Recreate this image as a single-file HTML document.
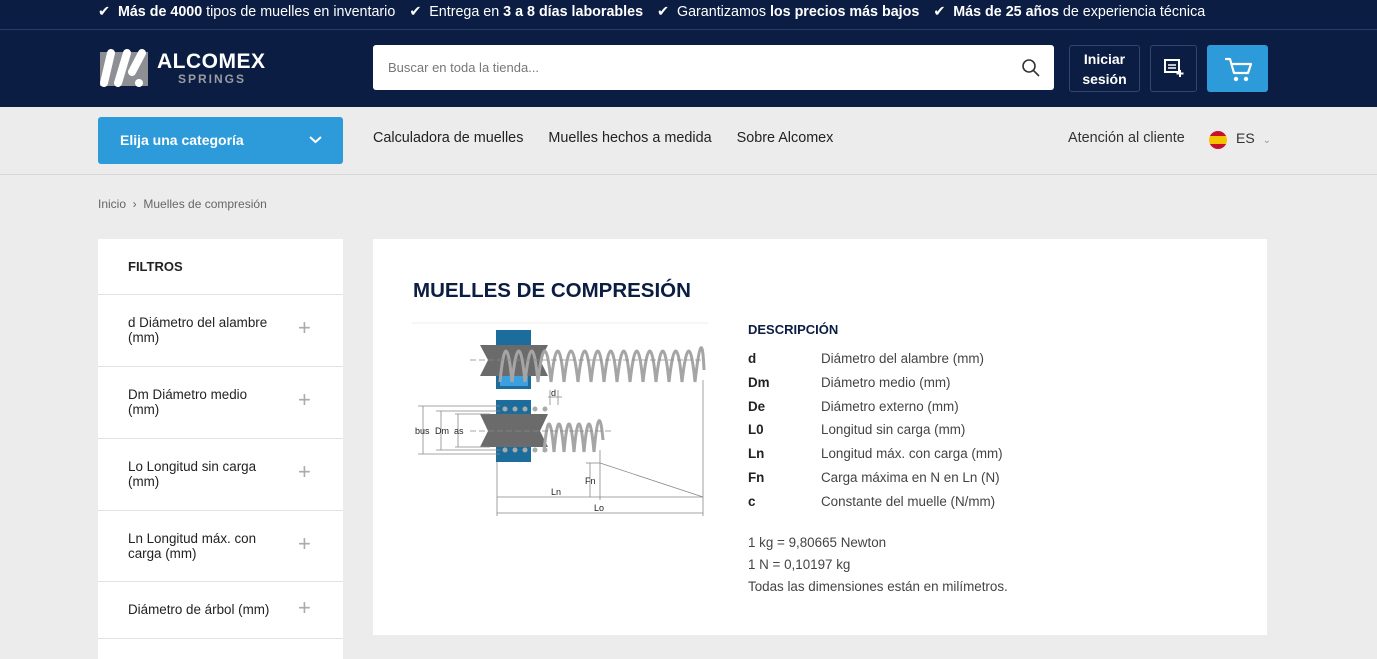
<!DOCTYPE html>
<html><head><meta charset="utf-8"><style>
*{margin:0;padding:0;box-sizing:border-box}
body{width:1377px;height:651px;overflow:hidden;background:#ececec;font-family:"Liberation Sans",sans-serif;position:relative;color:#1a1a1a}
.a{position:absolute}
.nav{background:#0b1d42}
.top span{margin-right:14px}
</style></head><body>
<div class="a nav" style="left:0;top:0;width:1377px;height:107px"></div>
<div class="a" style="left:0;top:29px;width:1377px;height:1px;background:#2a3d66"></div>
<div class="a top" style="left:98px;top:4px;color:#fff;font-size:14.3px;white-space:nowrap;line-height:17px">
<span>✔&nbsp;&nbsp;<b>Más de 4000</b> tipos de muelles en inventario</span><span>✔&nbsp;&nbsp;Entrega en <b>3 a 8 días laborables</b></span><span>✔&nbsp;&nbsp;Garantizamos <b>los precios más bajos</b></span><span>✔&nbsp;&nbsp;<b>Más de 25 años</b> de experiencia técnica</span></div>
<svg class="a" style="left:98px;top:46px" width="52" height="44" viewBox="0 0 52 44">
<rect x="2" y="6" width="48" height="34" fill="#8d8f94"/>
<g stroke="#fff" stroke-width="8" stroke-linecap="round"><line x1="6" y1="37" x2="13" y2="7"/><line x1="20" y1="37" x2="29" y2="7"/><line x1="34" y1="26" x2="44" y2="7"/></g>
<circle cx="41" cy="37" r="4" fill="#fff"/></svg>
<div class="a" style="left:157px;top:50px;color:#fff;font-weight:bold;font-size:21px;letter-spacing:0.5px">ALCOMEX</div>
<div class="a" style="left:178px;top:72px;color:#9a9ca2;font-weight:bold;font-size:12px;letter-spacing:2px">SPRINGS</div>
<div class="a" style="left:373px;top:45px;width:681px;height:45px;background:#fff;border-radius:3px"></div>
<div class="a" style="left:388px;top:60px;font-size:13px;color:#777">Buscar en toda la tienda...</div>
<svg class="a" style="left:1022px;top:59px" width="18" height="18"><circle cx="7" cy="7" r="6" fill="none" stroke="#333" stroke-width="1.6"/><line x1="11.5" y1="11.5" x2="17" y2="17" stroke="#333" stroke-width="1.6"/></svg>
<div class="a" style="left:1069px;top:45px;width:71px;height:47px;border:1px solid #33466e;border-radius:3px;color:#fff;font-weight:bold;font-size:14px;text-align:center;line-height:20px;padding-top:3px">Iniciar<br>sesión</div>
<div class="a" style="left:1150px;top:45px;width:47px;height:47px;border:1px solid #33466e;border-radius:3px"></div>
<svg class="a" style="left:1164px;top:58px" width="20" height="20"><rect x="1" y="2" width="14" height="12" fill="none" stroke="#fff" stroke-width="2"/><line x1="4" y1="7" x2="12" y2="7" stroke="#fff" stroke-width="1.5"/><line x1="4" y1="10" x2="12" y2="10" stroke="#fff" stroke-width="1.5"/><line x1="16" y1="12" x2="16" y2="19" stroke="#fff" stroke-width="2"/><line x1="12.5" y1="15.5" x2="19.5" y2="15.5" stroke="#fff" stroke-width="2"/></svg>
<div class="a" style="left:1207px;top:45px;width:61px;height:47px;background:#2d9ad9;border-radius:3px"></div>
<svg class="a" style="left:1222px;top:55px" width="32" height="28"><path d="M3 4 L8 4 L12 18 L26 18 L29 9 L10 9" fill="none" stroke="#fff" stroke-width="2.2" stroke-linejoin="round"/><circle cx="14" cy="24" r="2.2" fill="#fff"/><circle cx="24" cy="24" r="2.2" fill="#fff"/></svg>
<div class="a" style="left:0;top:174px;width:1377px;height:1px;background:#d6d6d6"></div>
<div class="a" style="left:98px;top:117px;width:245px;height:47px;background:#2d9ad9;border-radius:3px;color:#fff;font-weight:bold;font-size:14px;padding:15px 0 0 22px">Elija una categoría</div>
<svg class="a" style="left:309px;top:135px" width="13" height="10"><path d="M1 2 L6.5 7 L12 2" fill="none" stroke="#fff" stroke-width="2"/></svg>
<div class="a" style="left:373px;top:130px;font-size:14.4px;color:#222;white-space:nowrap">Calculadora de muelles<span style="margin-left:25px">Muelles hechos a medida</span><span style="margin-left:25px">Sobre Alcomex</span></div>
<div class="a" style="left:1068px;top:130px;font-size:14.4px;color:#333">Atención al cliente</div>
<div class="a" style="left:1209px;top:131px;width:18px;height:18px;border-radius:50%;background:linear-gradient(#c8102e 0 28%,#f5c400 28% 72%,#c8102e 72%)"></div>
<div class="a" style="left:1236px;top:130px;font-size:14px;color:#333">ES <span style="color:#999;font-size:10px;margin-left:4px">⌄</span></div>
<div class="a" style="left:98px;top:197px;font-size:12px;color:#666">Inicio &nbsp;›&nbsp; Muelles de compresión</div>
<div class="a" style="left:98px;top:239px;width:245px;height:420px;background:#fff"></div>
<div class="a" style="left:128px;top:259px;font-size:13px;font-weight:bold;color:#222">FILTROS</div>
<div class="a" style="left:98px;top:294px;width:245px;height:1px;background:#e2e2e2"></div>
<div class="a" style="left:128px;top:315px;font-size:13.4px;line-height:15px;color:#222">d Diámetro del alambre<br>(mm)</div>
<div class="a" style="left:98px;top:366px;width:245px;height:1px;background:#e2e2e2"></div>
<div class="a" style="left:128px;top:387px;font-size:13.4px;line-height:15px;color:#222">Dm Diámetro medio<br>(mm)</div>
<div class="a" style="left:98px;top:438px;width:245px;height:1px;background:#e2e2e2"></div>
<div class="a" style="left:128px;top:459px;font-size:13.4px;line-height:15px;color:#222">Lo Longitud sin carga<br>(mm)</div>
<div class="a" style="left:98px;top:510px;width:245px;height:1px;background:#e2e2e2"></div>
<div class="a" style="left:128px;top:531px;font-size:13.4px;line-height:15px;color:#222">Ln Longitud máx. con<br>carga (mm)</div>
<div class="a" style="left:98px;top:581px;width:245px;height:1px;background:#e2e2e2"></div>
<div class="a" style="left:128px;top:602px;font-size:13.4px;color:#222">Diámetro de árbol (mm)</div>
<div class="a" style="left:98px;top:638px;width:245px;height:1px;background:#e2e2e2"></div>
<div class="a" style="left:298px;top:317px;font-size:22px;color:#aaa;line-height:22px">+</div>
<div class="a" style="left:298px;top:389px;font-size:22px;color:#aaa;line-height:22px">+</div>
<div class="a" style="left:298px;top:461px;font-size:22px;color:#aaa;line-height:22px">+</div>
<div class="a" style="left:298px;top:533px;font-size:22px;color:#aaa;line-height:22px">+</div>
<div class="a" style="left:298px;top:597px;font-size:22px;color:#aaa;line-height:22px">+</div>
<div class="a" style="left:373px;top:239px;width:894px;height:396px;background:#fff"></div>
<div class="a" style="left:413px;top:279px;font-size:20.5px;font-weight:bold;color:#0b1d42">MUELLES DE COMPRESIÓN</div>
<svg class="a" style="left:405px;top:315px" width="310" height="210" viewBox="405 315 310 210">
<line x1="412" y1="323" x2="708" y2="323" stroke="#eee"/>
<rect x="496" y="330" width="35" height="59" fill="#1d6d9c"/>
<rect x="496" y="400" width="35" height="62" fill="#1d6d9c"/>
<rect x="500" y="376" width="28" height="10" fill="#3aa0e0"/>
<path d="M480 345 L548 345 L540 360 L548 376 L480 376 L488 360Z" fill="#6b6b6b"/>
<path d="M480 414 L548 414 L540 431 L548 447 L480 447 L488 431Z" fill="#6b6b6b"/>
<g fill="none" stroke="#a5a5a5" stroke-width="3">
<path d="M500 382 Q506 320 512 382 Q519 320 525 382 Q532 320 538 382 Q545 320 551 382 Q558 320 564 382 Q571 320 578 382 Q585 320 591 382 Q598 320 604 382 Q611 320 617 382 Q624 320 630 382 Q637 320 643 382 Q650 320 656 382 Q663 320 669 382 Q676 320 682 382 Q689 320 695 382 Q702 320 704 370"/>
<path d="M544 452 Q549 396 554 452 Q559 396 564 452 Q569 396 574 452 Q579 396 584 452 Q589 396 594 452 Q599 396 603 440"/>
</g>
<g fill="#aaa"><circle cx="505" cy="409" r="2.5"/><circle cx="515" cy="409" r="2.5"/><circle cx="525" cy="409" r="2.5"/><circle cx="535" cy="409" r="2.5"/><circle cx="545" cy="409" r="2.5"/><circle cx="505" cy="450" r="2.5"/><circle cx="515" cy="450" r="2.5"/><circle cx="525" cy="450" r="2.5"/><circle cx="535" cy="450" r="2.5"/><circle cx="545" cy="450" r="2.5"/></g>
<g stroke="#888" stroke-width="0.8" fill="none">
<line x1="703" y1="380" x2="703" y2="516"/><line x1="497" y1="462" x2="497" y2="516"/><line x1="600" y1="450" x2="600" y2="500"/>
<line x1="497" y1="497" x2="703" y2="497"/><line x1="497" y1="513" x2="703" y2="513"/>
<line x1="600" y1="463" x2="703" y2="497"/><line x1="586" y1="463" x2="600" y2="463"/><line x1="590" y1="463" x2="590" y2="497"/>
<line x1="423" y1="406" x2="423" y2="454"/><line x1="441" y1="411" x2="441" y2="450"/><line x1="458" y1="414" x2="458" y2="447"/>
<line x1="418" y1="406" x2="500" y2="406"/><line x1="418" y1="454" x2="500" y2="454"/><line x1="436" y1="411" x2="500" y2="411"/><line x1="436" y1="450" x2="500" y2="450"/>
<line x1="455" y1="414" x2="490" y2="414"/><line x1="455" y1="447" x2="490" y2="447"/>
<line x1="470" y1="360" x2="703" y2="360" stroke-dasharray="6 3"/><line x1="470" y1="431" x2="613" y2="431" stroke-dasharray="6 3"/>
<line x1="548" y1="397" x2="562" y2="397"/><line x1="550" y1="390" x2="550" y2="405"/><line x1="558" y1="390" x2="558" y2="405"/>
</g>
<g font-family="Liberation Sans" font-size="9" fill="#222"><text x="415" y="434">bus</text><text x="435" y="434">Dm</text><text x="454" y="434">as</text><text x="551" y="396">d</text><text x="585" y="484">Fn</text><text x="551" y="495">Ln</text><text x="594" y="511">Lo</text></g>
</svg>
<div class="a" style="left:748px;top:322px;font-size:13px;font-weight:bold;color:#0b1d42">DESCRIPCIÓN</div>
<div class="a" style="left:748px;top:347px;font-size:13.4px;line-height:23.8px;color:#222;font-weight:bold">d<br>Dm<br>De<br>L0<br>Ln<br>Fn<br>c</div>
<div class="a" style="left:821px;top:347px;font-size:13.4px;line-height:23.8px;color:#444">Diámetro del alambre (mm)<br>Diámetro medio (mm)<br>Diámetro externo (mm)<br>Longitud sin carga (mm)<br>Longitud máx. con carga (mm)<br>Carga máxima en N en Ln (N)<br>Constante del muelle (N/mm)</div>
<div class="a" style="left:748px;top:532px;font-size:13.4px;line-height:22px;color:#444">1 kg = 9,80665 Newton<br>1 N = 0,10197 kg<br>Todas las dimensiones están en milímetros.</div>
</body></html>
